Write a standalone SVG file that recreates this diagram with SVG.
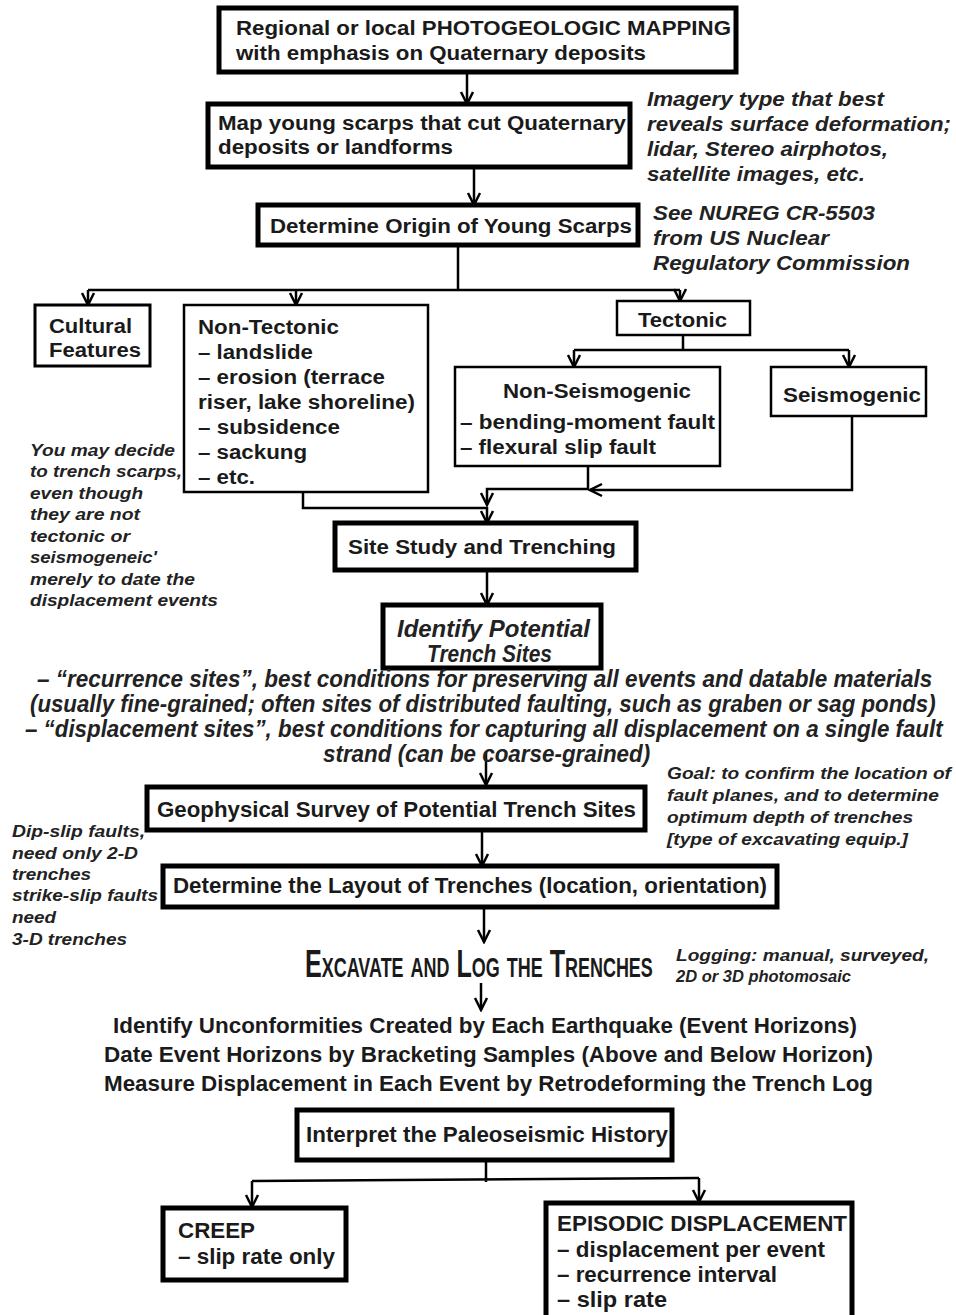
<svg xmlns="http://www.w3.org/2000/svg" width="956" height="1315" viewBox="0 0 956 1315">
<style>
.tb{fill:#fff;stroke:#000;stroke-width:5}
.nb{fill:#fff;stroke:#000;stroke-width:2.5}
.t{font-family:"Liberation Sans",Arial,sans-serif;font-weight:bold;font-size:20px;fill:#1a1a1a}
.n{font-family:"Liberation Sans",Arial,sans-serif;font-weight:bold;font-size:22px;fill:#1a1a1a}
.i{font-family:"Liberation Sans",Arial,sans-serif;font-weight:bold;font-style:italic;font-size:20px;fill:#222}
.s{font-family:"Liberation Sans",Arial,sans-serif;font-weight:bold;font-style:italic;font-size:17px;fill:#222}
.c{fill:none;stroke:#000;stroke-width:2.5}
</style>
<defs>
<marker id="arr" viewBox="-1 -8 15 16" refX="12" refY="0" markerWidth="15" markerHeight="16" markerUnits="userSpaceOnUse" orient="auto">
<path d="M0,-6 L12,0 L0,6" fill="none" stroke="#000" stroke-width="2.5"/>
</marker>
</defs>
<g id="connectors">
<path class="c" d="M467,72 V104" marker-end="url(#arr)"/>
<path class="c" d="M474,167 V205" marker-end="url(#arr)"/>
<path class="c" d="M458,245 V290 M88,290 H680"/>
<path class="c" d="M88,290 V305" marker-end="url(#arr)"/>
<path class="c" d="M296,290 V305" marker-end="url(#arr)"/>
<path class="c" d="M680,290 V301" marker-end="url(#arr)"/>
<path class="c" d="M683,335 V350 M574,350 H849"/>
<path class="c" d="M574,350 V367" marker-end="url(#arr)"/>
<path class="c" d="M849,350 V367" marker-end="url(#arr)"/>
<path class="c" d="M588,466 V489 H487 V505" marker-end="url(#arr)"/>
<path class="c" d="M303,492 V508 H487 V523" marker-end="url(#arr)"/>
<path class="c" d="M852,416 V490 H590" marker-end="url(#arr)"/>
<path class="c" d="M487,570 V605" marker-end="url(#arr)"/>
<path class="c" d="M486,752 V785" marker-end="url(#arr)"/>
<path class="c" d="M482,830 V866" marker-end="url(#arr)"/>
<path class="c" d="M484,907 V942" marker-end="url(#arr)"/>
<path class="c" d="M481,983 V1010" marker-end="url(#arr)"/>
<path class="c" d="M486,1160 V1182 M252,1181 L699,1178"/>
<path class="c" d="M252,1181 V1207" marker-end="url(#arr)"/>
<path class="c" d="M699,1178 V1202" marker-end="url(#arr)"/>
</g>
<g id="n1">
<rect class="tb" x="219" y="8" width="517" height="64"/>
<text class="t" x="236" y="35" textLength="495" lengthAdjust="spacingAndGlyphs">Regional or local PHOTOGEOLOGIC MAPPING</text>
<text class="t" x="236" y="60" textLength="410" lengthAdjust="spacingAndGlyphs">with emphasis on Quaternary deposits</text>
</g>
<g id="n2">
<rect class="tb" x="208" y="104" width="422" height="63"/>
<text class="t" x="218" y="130" textLength="408" lengthAdjust="spacingAndGlyphs">Map young scarps that cut Quaternary</text>
<text class="t" x="218" y="154" textLength="235" lengthAdjust="spacingAndGlyphs">deposits or landforms</text>
</g>
<g id="note-imagery">
<text class="i" x="647" y="106" textLength="237" lengthAdjust="spacingAndGlyphs">Imagery type that best</text>
<text class="i" x="647" y="131" textLength="304" lengthAdjust="spacingAndGlyphs">reveals surface deformation;</text>
<text class="i" x="647" y="156" textLength="241" lengthAdjust="spacingAndGlyphs">lidar, Stereo airphotos,</text>
<text class="i" x="647" y="181" textLength="218" lengthAdjust="spacingAndGlyphs">satellite images, etc.</text>
</g>
<g id="n3">
<rect class="tb" x="258" y="205" width="380" height="40"/>
<text class="t" x="270" y="233" textLength="362" lengthAdjust="spacingAndGlyphs">Determine Origin of Young Scarps</text>
</g>
<g id="note-nureg">
<text class="i" x="653" y="220" textLength="222" lengthAdjust="spacingAndGlyphs">See NUREG CR-5503</text>
<text class="i" x="653" y="245" textLength="176" lengthAdjust="spacingAndGlyphs">from US Nuclear</text>
<text class="i" x="653" y="270" textLength="257" lengthAdjust="spacingAndGlyphs">Regulatory Commission</text>
</g>
<g id="cultural">
<rect class="nb" x="35" y="305" width="115" height="61" style="stroke-width:3"/>
<text class="t" x="49" y="333" textLength="83" lengthAdjust="spacingAndGlyphs">Cultural</text>
<text class="t" x="49" y="357" textLength="92" lengthAdjust="spacingAndGlyphs">Features</text>
</g>
<g id="nontectonic">
<rect class="nb" x="184" y="305" width="244" height="187"/>
<text class="t" x="198" y="334" textLength="141" lengthAdjust="spacingAndGlyphs">Non-Tectonic</text>
<text class="t" x="198" y="359" textLength="115" lengthAdjust="spacingAndGlyphs">– landslide</text>
<text class="t" x="198" y="384" textLength="187" lengthAdjust="spacingAndGlyphs">– erosion (terrace</text>
<text class="t" x="198" y="409" textLength="217" lengthAdjust="spacingAndGlyphs">riser, lake shoreline)</text>
<text class="t" x="198" y="434" textLength="142" lengthAdjust="spacingAndGlyphs">– subsidence</text>
<text class="t" x="198" y="459" textLength="109" lengthAdjust="spacingAndGlyphs">– sackung</text>
<text class="t" x="198" y="484" textLength="57" lengthAdjust="spacingAndGlyphs">– etc.</text>
</g>
<g id="tectonic">
<rect class="nb" x="617" y="301" width="133" height="34"/>
<text class="t" x="638" y="327" textLength="89" lengthAdjust="spacingAndGlyphs">Tectonic</text>
</g>
<g id="nonseismogenic">
<rect class="nb" x="455" y="367" width="265" height="99"/>
<text class="t" x="503" y="398" textLength="188" lengthAdjust="spacingAndGlyphs">Non-Seismogenic</text>
<text class="t" x="460" y="429" textLength="255" lengthAdjust="spacingAndGlyphs">– bending-moment fault</text>
<text class="t" x="460" y="454" textLength="196" lengthAdjust="spacingAndGlyphs">– flexural slip fault</text>
</g>
<g id="seismogenic">
<rect class="nb" x="771" y="367" width="155" height="49"/>
<text class="t" x="783" y="402" textLength="138" lengthAdjust="spacingAndGlyphs">Seismogenic</text>
</g>
<g id="note-trench">
<text class="s" x="30" y="456" textLength="145" lengthAdjust="spacingAndGlyphs">You may decide</text>
<text class="s" x="30" y="477" textLength="152" lengthAdjust="spacingAndGlyphs">to trench scarps,</text>
<text class="s" x="30" y="499" textLength="113" lengthAdjust="spacingAndGlyphs">even though</text>
<text class="s" x="30" y="520" textLength="110" lengthAdjust="spacingAndGlyphs">they are not</text>
<text class="s" x="30" y="542" textLength="100" lengthAdjust="spacingAndGlyphs">tectonic or</text>
<text class="s" x="30" y="563" textLength="127" lengthAdjust="spacingAndGlyphs">seismogeneic'</text>
<text class="s" x="30" y="585" textLength="165" lengthAdjust="spacingAndGlyphs">merely to date the</text>
<text class="s" x="30" y="606" textLength="188" lengthAdjust="spacingAndGlyphs">displacement events</text>
</g>
<g id="sitestudy">
<rect class="tb" x="335" y="523" width="301" height="47"/>
<text class="t" x="348" y="554" textLength="268" lengthAdjust="spacingAndGlyphs">Site Study and Trenching</text>
</g>
<g id="identify">
<rect class="tb" x="383" y="605" width="218" height="63"/>
<text class="i" x="397" y="637" textLength="193" lengthAdjust="spacingAndGlyphs" style="font-size:23px">Identify Potential</text>
<text class="i" x="427" y="662" textLength="125" lengthAdjust="spacingAndGlyphs" style="font-size:23px">Trench Sites</text>
</g>
<g id="sites-text">
<text class="i" transform="translate(37,687) scale(0.8,1)" x="0" y="0" textLength="1119" lengthAdjust="spacingAndGlyphs" style="font-size:23px">– “recurrence sites”, best conditions for preserving all events and datable materials</text>
<text class="i" transform="translate(30,712) scale(0.8,1)" x="0" y="0" textLength="1132" lengthAdjust="spacingAndGlyphs" style="font-size:23px">(usually fine-grained; often sites of distributed faulting, such as graben or sag ponds)</text>
<text class="i" transform="translate(25,737) scale(0.8,1)" x="0" y="0" textLength="1147" lengthAdjust="spacingAndGlyphs" style="font-size:23px">– “displacement sites”, best conditions for capturing all displacement on a single fault</text>
<text class="i" transform="translate(323,762) scale(0.8,1)" x="0" y="0" textLength="409" lengthAdjust="spacingAndGlyphs" style="font-size:23px">strand (can be coarse-grained)</text>
</g>
<g id="geophysical">
<rect class="tb" x="147" y="787" width="498" height="43"/>
<text class="n" x="157" y="817" textLength="479" lengthAdjust="spacingAndGlyphs">Geophysical Survey of Potential Trench Sites</text>
</g>
<g id="note-goal">
<text class="s" x="667" y="779" textLength="284" lengthAdjust="spacingAndGlyphs">Goal: to confirm the location of</text>
<text class="s" x="667" y="801" textLength="272" lengthAdjust="spacingAndGlyphs">fault planes, and to determine</text>
<text class="s" x="667" y="823" textLength="246" lengthAdjust="spacingAndGlyphs">optimum depth of trenches</text>
<text class="s" x="667" y="845" textLength="241" lengthAdjust="spacingAndGlyphs">[type of excavating equip.]</text>
</g>
<g id="note-dip">
<text class="s" x="12" y="837" textLength="133" lengthAdjust="spacingAndGlyphs">Dip-slip faults,</text>
<text class="s" x="12" y="859" textLength="126" lengthAdjust="spacingAndGlyphs">need only 2-D</text>
<text class="s" x="12" y="880" textLength="79" lengthAdjust="spacingAndGlyphs">trenches</text>
<text class="s" x="12" y="901" textLength="146" lengthAdjust="spacingAndGlyphs">strike-slip faults</text>
<text class="s" x="12" y="923" textLength="44" lengthAdjust="spacingAndGlyphs">need</text>
<text class="s" x="12" y="945" textLength="115" lengthAdjust="spacingAndGlyphs">3-D trenches</text>
</g>
<g id="layout">
<rect class="tb" x="163" y="866" width="614" height="41"/>
<text class="n" x="173" y="893" textLength="594" lengthAdjust="spacingAndGlyphs">Determine the Layout of Trenches (location, orientation)</text>
</g>
<g id="excavate">
<text class="t" transform="translate(305,977) scale(0.66,1)" x="0" y="0" textLength="527" lengthAdjust="spacingAndGlyphs" style="font-size:38px;font-variant:small-caps">Excavate and Log the Trenches</text>
</g>
<g id="note-logging">
<text class="s" x="676" y="961" textLength="253" lengthAdjust="spacingAndGlyphs">Logging: manual, surveyed,</text>
<text class="s" x="676" y="982" textLength="175" lengthAdjust="spacingAndGlyphs">2D or 3D photomosaic</text>
</g>
<g id="steps">
<text class="n" x="113" y="1033" textLength="744" lengthAdjust="spacingAndGlyphs">Identify Unconformities Created by Each Earthquake (Event Horizons)</text>
<text class="n" x="104" y="1062" textLength="769" lengthAdjust="spacingAndGlyphs">Date Event Horizons by Bracketing Samples (Above and Below Horizon)</text>
<text class="n" x="104" y="1091" textLength="769" lengthAdjust="spacingAndGlyphs">Measure Displacement in Each Event by Retrodeforming the Trench Log</text>
</g>
<g id="interpret">
<rect class="tb" x="297" y="1110" width="375" height="50"/>
<text class="n" x="306" y="1142" textLength="362" lengthAdjust="spacingAndGlyphs">Interpret the Paleoseismic History</text>
</g>
<g id="creep">
<rect class="tb" x="163" y="1208" width="183" height="72"/>
<text class="n" x="178" y="1238" textLength="77" lengthAdjust="spacingAndGlyphs">CREEP</text>
<text class="n" x="178" y="1264" textLength="157" lengthAdjust="spacingAndGlyphs">– slip rate only</text>
</g>
<g id="episodic">
<rect class="tb" x="546" y="1203" width="306" height="115"/>
<text class="n" x="557" y="1231" textLength="290" lengthAdjust="spacingAndGlyphs">EPISODIC DISPLACEMENT</text>
<text class="n" x="557" y="1257" textLength="268" lengthAdjust="spacingAndGlyphs">– displacement per event</text>
<text class="n" x="557" y="1282" textLength="220" lengthAdjust="spacingAndGlyphs">– recurrence interval</text>
<text class="n" x="557" y="1307" textLength="110" lengthAdjust="spacingAndGlyphs">– slip rate</text>
</g>
</svg>
